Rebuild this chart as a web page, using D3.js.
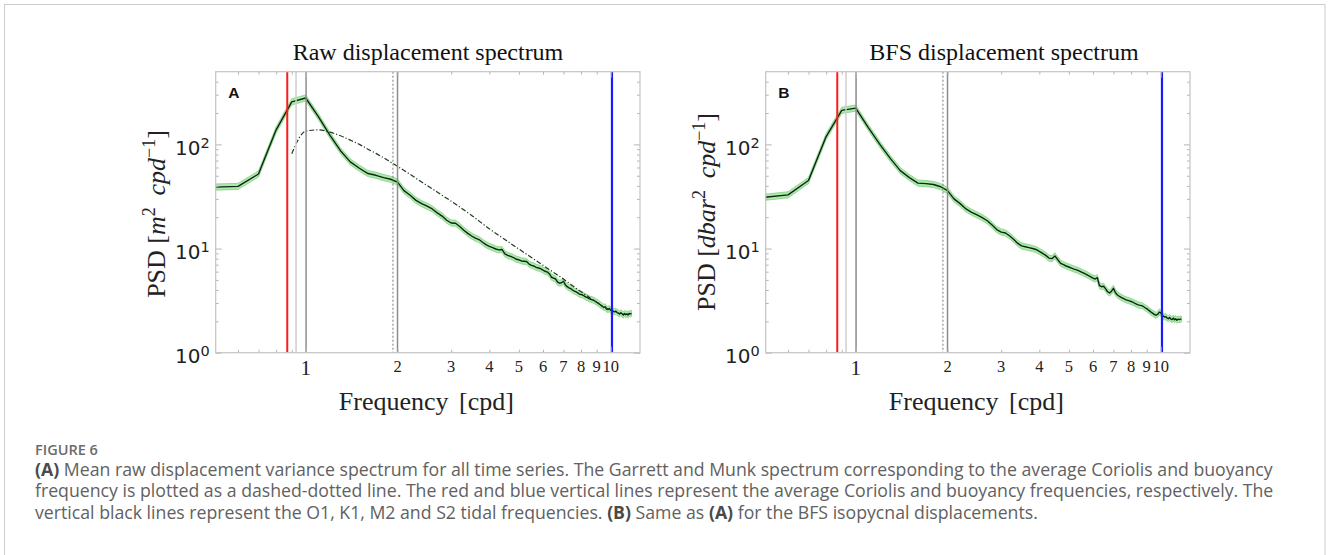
<!DOCTYPE html>
<html>
<head>
<meta charset="utf-8">
<script src="https://cdn.jsdelivr.net/npm/d3@7"></script>
<style>
  html, body { margin: 0; padding: 0; background: #fff; }
  svg { display: block; }
</style>
</head>
<body>
<svg id="fig" width="1328" height="555"></svg>
<script>
// ---- spectral estimates (frequency in cpd, PSD per cpd) ----
const freqs = [
  0.5, 0.6, 0.7, 0.8, 0.9, 1.0, 1.1, 1.2, 1.3, 1.4, 1.5, 1.6, 1.7, 1.8, 1.9,
  2.0, 2.1, 2.2, 2.3, 2.4, 2.5, 2.6, 2.7, 2.8, 2.9,
  3.0, 3.1, 3.2, 3.3, 3.4, 3.5, 3.6, 3.7, 3.8, 3.9,
  4.0, 4.1, 4.2, 4.3, 4.4, 4.5, 4.6, 4.7, 4.8, 4.9,
  5.0, 5.1, 5.2, 5.3, 5.4, 5.5, 5.6, 5.7, 5.8, 5.9,
  6.0, 6.1, 6.2, 6.3, 6.4, 6.5, 6.6, 6.7, 6.8, 6.9,
  7.0, 7.1, 7.2, 7.3, 7.4, 7.5, 7.6, 7.7, 7.8, 7.9,
  8.0, 8.1, 8.2, 8.3, 8.4, 8.5, 8.6, 8.7, 8.8, 8.9,
  9.0, 9.1, 9.2, 9.3, 9.4, 9.5, 9.6, 9.7, 9.8, 9.9,
  10.0, 10.1, 10.2, 10.3, 10.4, 10.5, 10.6, 10.7, 10.8, 10.9,
  11.0, 11.1, 11.2, 11.3, 11.4, 11.5, 11.6, 11.7
];

// mean raw displacement spectrum [m^2 cpd^-1]
const rawPSD = [
  38.9, 39.5, 52, 138, 256, 279, 185, 123, 87, 68, 59, 52.5, 50.5, 48, 46.3,
  43.5, 36, 32.5, 29, 27, 25.5, 24, 22, 20.5, 18.7,
  17.6, 17.5, 16.3, 15, 14, 13.2, 12.6, 12.2, 11.5, 10.9,
  10.5, 10.2, 9.9, 9.7, 9.8, 8.9, 8.6, 8.4, 8.2, 7.9,
  7.8, 7.6, 7.55, 7.5, 7.1, 6.9, 6.8, 6.6, 6.5, 6.4,
  6.2, 6.05, 5.95, 5.7, 5.3, 5.2, 5.1, 4.75, 4.65, 4.7,
  4.85, 4.5, 4.3, 4.2, 4.12, 4.0, 3.9, 3.85, 3.75, 3.65,
  3.62, 3.58, 3.5, 3.42, 3.38, 3.3, 3.25, 3.22, 3.18, 3.12,
  3.05, 3.0, 2.92, 2.85, 2.78, 2.72, 2.76, 2.62, 2.6, 2.66,
  2.55, 2.55, 2.5, 2.47, 2.5, 2.43, 2.4, 2.35, 2.42, 2.36,
  2.3, 2.38, 2.32, 2.36, 2.3, 2.38, 2.36, 2.38
];

// mean BFS isopycnal displacement spectrum [dbar^2 cpd^-1]
const bfsPSD = [
  31, 32.8, 45, 119, 212, 223, 145, 100, 73, 56, 48, 42.5, 42, 41.2, 39.2,
  36, 30, 27, 24, 22.3, 21, 19.8, 18.5, 16.8, 15.2,
  14.4, 14.1, 13.2, 12.2, 11.2, 10.6, 10.4, 10.2, 10.0, 9.8,
  9.4, 9.0, 8.6, 8.1, 8.0, 8.5, 7.8, 7.2, 7.0, 6.8,
  6.65, 6.5, 6.35, 6.25, 6.1, 5.95, 5.8, 5.65, 5.5, 5.35,
  5.2, 5.1, 5.25, 4.4, 4.3, 4.35, 4.1, 3.85, 3.75, 3.9,
  4.15, 3.8, 3.6, 3.5, 3.42, 3.35, 3.28, 3.22, 3.18, 3.14,
  3.1, 3.06, 3.0, 2.95, 2.9, 2.86, 2.85, 2.82, 2.76, 2.7,
  2.65, 2.58, 2.52, 2.45, 2.4, 2.35, 2.3, 2.3, 2.35, 2.45,
  2.42, 2.3, 2.25, 2.2, 2.22, 2.15, 2.12, 2.18, 2.1, 2.08,
  2.15, 2.07, 2.12, 2.05, 2.1, 2.08, 2.1, 2.1
];

// Garrett-Munk reference spectrum for the mean f and N
const gmFreqs = [0.9, 1.0, 1.1, 1.2, 1.3, 1.4, 1.5, 1.6, 1.7, 1.8, 1.9, 2.0,
  2.2, 2.4, 2.6, 2.8, 3.0, 3.5, 4.0, 4.5, 5.0, 5.5, 6.0, 6.5, 7.0, 7.5,
  8.0, 8.5, 9.0, 9.5, 10.0];
const gmPSD = [81.5, 134, 138, 131, 121, 110, 100, 90, 82, 74.5, 67.5, 61.5,
  51.5, 43.5, 37.5, 32.5, 28.5, 20.8, 15.5, 12.2, 9.9, 8.2, 6.9, 5.9, 5.1, 4.4,
  3.85, 3.4, 3.05, 2.75, 2.55];

// 95% confidence ratio of the averaged spectra
const ciRatio = 1.07;

// reference frequencies [cpd]
const coriolisFreq = 0.87;
const buoyancyFreq = 10.1;
const tidalFreqs = { O1: 0.9295, K1: 1.0027, M2: 1.9323, S2: 2.0 };

// axis ticks
const yMajorTicks = [1, 10, 100];
const yTickExponents = ["0", "1", "2"];
const yMinorTicks = [2, 3, 4, 5, 6, 7, 8, 9, 20, 30, 40, 50, 60, 70, 80, 90, 200, 300, 400];
const xMajorTicks = [1, 10];
const xMinorTicks = [0.6, 0.7, 0.8, 0.9, 2, 3, 4, 5, 6, 7, 8, 9];
const xMinorLabels = [2, 3, 4, 5, 6, 7, 8, 9, 10];

const panelTitles = ["Raw displacement spectrum", "BFS displacement spectrum"];
const panelLetters = ["A", "B"];
const panelUnits = ["m", "dbar"];

// ---- layout ----
const SERIF = "'Liberation Serif', 'DejaVu Serif', serif";
const SANS = "'DejaVu Sans', sans-serif";
const plotW = 424.3, plotH = 281, plotTop = 71.7;
const panels = [
  { left: 215.7, titleX: 428, data: rawPSD, gm: true, title: panelTitles[0], letter: panelLetters[0], unit: panelUnits[0], ylabY: 214 },
  { left: 765.7, titleX: 1004, data: bfsPSD, gm: false, title: panelTitles[1], letter: panelLetters[1], unit: panelUnits[1], ylabY: 212 }
];

const svg = d3.select("#fig");

// outer frame of the figure box
svg.append("rect")
  .attr("x", 4.5).attr("y", 4.5).attr("width", 1320.5).attr("height", 620)
  .attr("fill", "none").attr("stroke", "#cccccc").attr("stroke-width", 1);

panels.forEach((p, pi) => {
  const x = d3.scaleLog().domain([0.5068, 12.48]).range([p.left, p.left + plotW]);
  const y = d3.scaleLog().domain([1, 499]).range([plotTop + plotH, plotTop]);
  const g = svg.append("g");

  const clipId = "clip" + pi;
  g.append("clipPath").attr("id", clipId)
    .append("rect").attr("x", p.left).attr("y", plotTop).attr("width", plotW).attr("height", plotH);

  const plot = g.append("g").attr("clip-path", `url(#${clipId})`);

  const series = freqs.map((f, i) => ({ f, v: p.data[i] })).filter(d => d.v != null);

  // confidence band
  plot.append("path")
    .datum(series)
    .attr("d", d3.area().x(d => x(d.f)).y0(d => y(d.v / ciRatio)).y1(d => y(d.v * ciRatio)))
    .attr("fill", "#aee8ae").attr("stroke", "#7fd27f").attr("stroke-width", 0.8);

  // mean spectrum
  plot.append("path")
    .datum(series)
    .attr("d", d3.line().x(d => x(d.f)).y(d => y(d.v)))
    .attr("fill", "none").attr("stroke", "#0c260f").attr("stroke-width", 1.4)
    .attr("stroke-linejoin", "round");

  // Garrett-Munk curve
  if (p.gm) {
    const gm = gmFreqs.map((f, i) => ({ f, v: gmPSD[i] }));
    plot.append("path")
      .datum(gm)
      .attr("d", d3.line().x(d => x(d.f)).y(d => y(d.v)).curve(d3.curveMonotoneX))
      .attr("fill", "none").attr("stroke", "#1f3a22").attr("stroke-width", 1.2)
      .attr("stroke-dasharray", "5,2,1.2,2");
  }

  // reference vertical lines
  const vline = (f, color, width, dash) => {
    plot.append("line")
      .attr("x1", x(f)).attr("x2", x(f)).attr("y1", plotTop).attr("y2", plotTop + plotH)
      .attr("stroke", color).attr("stroke-width", width)
      .attr("stroke-dasharray", dash || null);
  };
  vline(tidalFreqs.O1, "#cfcfcf", 1.5);
  vline(tidalFreqs.K1, "#8c8c8c", 1.5);
  vline(tidalFreqs.M2, "#6a6a6a", 0.9, "2,2");
  vline(tidalFreqs.S2, "#8c8c8c", 1.5);
  vline(coriolisFreq, "#ff1a1a", 2);
  vline(buoyancyFreq, "#1a1aff", 2.2);

  // ticks (inward, mirrored on all four sides)
  const tickStyle = sel => {
    sel.select(".domain").remove();
    sel.selectAll(".tick line").attr("stroke", "#b5b5b5").attr("stroke-width", 1);
    sel.selectAll(".tick text").remove();
  };
  const bottom = plotTop + plotH, right = p.left + plotW;
  g.append("g").attr("transform", `translate(${p.left},0)`)
    .call(d3.axisLeft(y).tickValues(yMajorTicks).tickSize(-6)).call(tickStyle);
  g.append("g").attr("transform", `translate(${p.left},0)`)
    .call(d3.axisLeft(y).tickValues(yMinorTicks).tickSize(-3)).call(tickStyle);
  g.append("g").attr("transform", `translate(${right},0)`)
    .call(d3.axisRight(y).tickValues(yMajorTicks).tickSize(-6)).call(tickStyle);
  g.append("g").attr("transform", `translate(${right},0)`)
    .call(d3.axisRight(y).tickValues(yMinorTicks).tickSize(-3)).call(tickStyle);
  g.append("g").attr("transform", `translate(0,${bottom})`)
    .call(d3.axisBottom(x).tickValues(xMajorTicks).tickSize(-6)).call(tickStyle);
  g.append("g").attr("transform", `translate(0,${bottom})`)
    .call(d3.axisBottom(x).tickValues(xMinorTicks).tickSize(-3)).call(tickStyle);
  g.append("g").attr("transform", `translate(0,${plotTop})`)
    .call(d3.axisTop(x).tickValues(xMajorTicks).tickSize(-6)).call(tickStyle);
  g.append("g").attr("transform", `translate(0,${plotTop})`)
    .call(d3.axisTop(x).tickValues(xMinorTicks).tickSize(-3)).call(tickStyle);

  // plot frame
  g.append("rect")
    .attr("x", p.left).attr("y", plotTop).attr("width", plotW).attr("height", plotH)
    .attr("fill", "none").attr("stroke", "#c4c4c4").attr("stroke-width", 1.2);

  // y tick labels 10^k
  yMajorTicks.forEach((v, i) => {
    const t = g.append("text")
      .attr("x", p.left - 6).attr("y", y(v) + 10.3)
      .attr("text-anchor", "end")
      .attr("font-family", SANS).attr("font-size", 20).attr("fill", "#222");
    t.append("tspan").text("10");
    t.append("tspan").attr("dy", -7).attr("font-size", 14.5).text(yTickExponents[i]);
  });

  // x tick labels
  g.append("text")
    .attr("x", x(1)).attr("y", 375)
    .attr("text-anchor", "middle")
    .attr("font-family", SERIF).attr("font-size", 21).attr("fill", "#222")
    .text("1");
  xMinorLabels.forEach(v => {
    g.append("text")
      .attr("x", x(v)).attr("y", 371.5)
      .attr("text-anchor", "middle")
      .attr("font-family", SERIF).attr("font-size", 16.5).attr("fill", "#222")
      .text(String(v));
  });

  // axis labels
  g.append("text")
    .attr("x", p.left + plotW / 2 - 1.5).attr("y", 410)
    .attr("text-anchor", "middle")
    .attr("font-family", SERIF).attr("font-size", 26).attr("fill", "#222")
    .attr("word-spacing", 4)
    .text("Frequency [cpd]");

  const yl = g.append("text")
    .attr("transform", `translate(${p.left - 50.7},${p.ylabY}) rotate(-90)`)
    .attr("text-anchor", "middle")
    .attr("font-family", SERIF).attr("font-size", 26).attr("fill", "#222");
  yl.append("tspan").text("PSD [");
  yl.append("tspan").attr("font-style", "italic").text(p.unit);
  yl.append("tspan").attr("dy", -10).attr("font-size", 18).text("2");
  yl.append("tspan").attr("dy", 10).attr("font-style", "italic").text("\u2009 cpd");
  yl.append("tspan").attr("dy", -10).attr("font-size", 18).text("\u22121");
  yl.append("tspan").attr("dy", 10).text("]");

  // title
  g.append("text")
    .attr("x", p.titleX).attr("y", 60)
    .attr("text-anchor", "middle")
    .attr("font-family", SERIF).attr("font-size", 24).attr("fill", "#111")
    .text(p.title);

  // panel letter
  g.append("text")
    .attr("x", p.left + 12.5).attr("y", 98.3)
    .attr("font-family", "'Liberation Sans', Arial, sans-serif").attr("font-weight", "bold")
    .attr("font-size", 15.5).attr("fill", "#111")
    .text(p.letter);
});

// ---- caption ----
const CAP = "'Open Sans', sans-serif";
svg.append("text")
  .attr("x", 35).attr("y", 454.5)
  .attr("font-family", CAP).attr("font-size", 14.5).attr("font-weight", 600).attr("fill", "#6b6b6b")
  .text("FIGURE 6");

const captionLines = [
  [["(A)", true], [" Mean raw displacement variance spectrum for all time series. The Garrett and Munk spectrum corresponding to the average Coriolis and buoyancy", false]],
  [["frequency is plotted as a dashed-dotted line. The red and blue vertical lines represent the average Coriolis and buoyancy frequencies, respectively. The", false]],
  [["vertical black lines represent the O1, K1, M2 and S2 tidal frequencies. ", false], ["(B)", true], [" Same as ", false], ["(A)", true], [" for the BFS isopycnal displacements.", false]]
];
const capTexts = captionLines.map((parts, i) => {
  const t = svg.append("text")
    .attr("x", 35).attr("y", 475.5 + i * 21.8)
    .attr("font-family", CAP).attr("font-size", 15.5).attr("fill", "#616161");
  parts.forEach(([s, bold]) => {
    t.append("tspan").attr("font-weight", bold ? 700 : 400).attr("fill", bold ? "#4a4a4a" : "#616161").text(s);
  });
  return t;
});
// fit first caption line to the column width
const w0 = capTexts[0].node().getComputedTextLength();
const fs = 15.5 * 1239 / w0;
capTexts.forEach(t => t.attr("font-size", fs));
</script>
</body>
</html>
